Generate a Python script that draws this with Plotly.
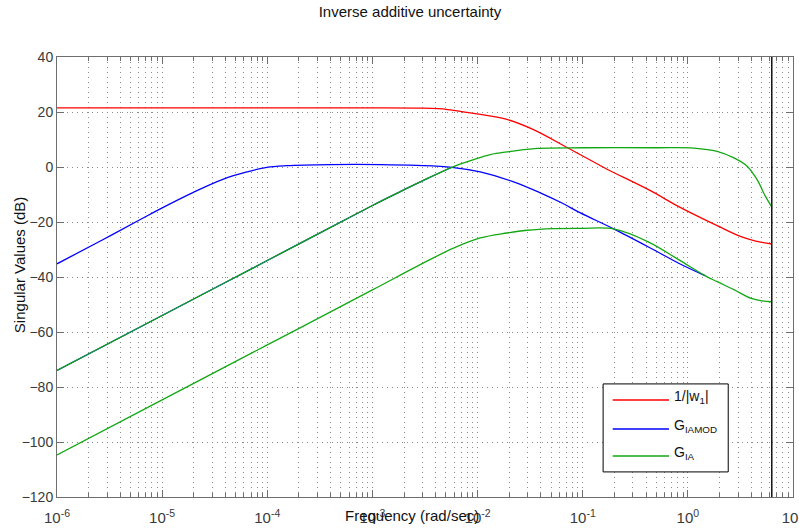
import plotly.graph_objects as go

# Singular values (dB) against frequency (rad/s)
w1_freq = [1e-6, 1e-5, 1e-4, 1e-3, 3.0e-3, 4.2e-3, 5.2e-3, 8.5e-3, 1.9e-2, 3.4e-2,
           7.1e-2, 0.141, 0.172, 0.44, 0.81, 1.90, 3.16, 4.91, 6.283]
w1_db = [21.5, 21.5, 21.5, 21.5, 21.4, 21.2, 20.9, 19.7, 17.3, 13.6,
         7.1, 0.9, -0.9, -8.6, -14.3, -21.3, -25.2, -27.3, -28.0]

iamod_freq = [1e-6, 2.56e-6, 6.2e-6, 9.5e-6, 1.98e-5, 3.83e-5, 6.4e-5, 9.9e-5, 1.53e-4,
              4e-4, 1.19e-3, 2.65e-3, 5.7e-3, 1.06e-2, 2.2e-2, 3.95e-2, 6.35e-2, 9.5e-2,
              0.197, 0.473, 0.818, 1.47]
iamod_db = [-35.2, -27.0, -19.1, -15.3, -9.2, -4.4, -1.8, -0.1, 0.5,
            0.9, 0.9, 0.6, -0.1, -1.8, -5.4, -9.4, -13.1, -16.7,
            -22.5, -30.1, -35.0, -39.6]

# second singular value of G_IAMOD (runs underneath the rising G_IA branch)
iamod2_freq = [1e-6, 1e-5, 1e-4, 1e-3, 1.9e-3, 3.16e-3, 5.7e-3]
iamod2_db = [-74.0, -54.0, -34.0, -14.0, -8.7, -4.6, -0.1]

ia_hi_freq = [1e-6, 1e-5, 1e-4, 1e-3, 1.9e-3, 3.16e-3, 5.7e-3, 9.2e-3, 1.32e-2, 2.0e-2,
              2.74e-2, 3.67e-2, 0.1, 0.5, 1.14, 1.90, 2.74, 3.66, 4.56, 5.47, 6.283]
ia_hi_db = [-74.0, -54.0, -34.0, -14.0, -8.7, -4.6, -0.1, 2.7, 4.5, 5.6,
            6.3, 6.8, 7.0, 7.0, 6.9, 5.7, 3.3, 0.3, -4.6, -10.7, -14.5]

ia_lo_freq = [1e-6, 1e-5, 1e-4, 1e-3, 2.85e-3, 5.9e-3, 1.06e-2, 1.9e-2, 2.95e-2, 5.2e-2,
              9.5e-2, 0.197, 0.42, 0.818, 1.47, 1.90, 2.74, 3.95, 4.91, 6.283]
ia_lo_db = [-104.7, -84.7, -64.7, -44.7, -35.5, -29.5, -25.8, -24.0, -23.0, -22.4,
            -22.3, -22.5, -27.2, -33.7, -39.6, -41.7, -44.6, -47.7, -48.6, -49.0]

nyquist_freq = 6.283
y_limits = [-120, 40]

legend_labels = ["1/|w<sub>1</sub>|", "G<sub>IAMOD</sub>", "G<sub>IA</sub>"]
x_tick_exponents = [-6, -5, -4, -3, -2, -1, 0, 1]
y_ticks = [-120, -100, -80, -60, -40, -20, 0, 20, 40]

RED, BLUE, GREEN = "#ff0000", "#0000ff", "#12a812"
AXIS = "#6e6e6e"
GRID = "#8c8c8c"
GRID_DASH = "1px,4px"
FONT = "Liberation Sans, Arial, Helvetica, sans-serif"

fig = go.Figure()
line_kw = dict(mode="lines", line_shape="spline", hoverinfo="skip", showlegend=False)
fig.add_trace(go.Scatter(x=w1_freq, y=w1_db, line=dict(color=RED, width=1.3), **line_kw))
fig.add_trace(go.Scatter(x=iamod2_freq, y=iamod2_db, line=dict(color=BLUE, width=1.3), **line_kw))
fig.add_trace(go.Scatter(x=iamod_freq, y=iamod_db, line=dict(color=BLUE, width=1.3), **line_kw))
fig.add_trace(go.Scatter(x=ia_hi_freq, y=ia_hi_db, line=dict(color=GREEN, width=1.3), **line_kw))
fig.add_trace(go.Scatter(x=ia_lo_freq, y=ia_lo_db, line=dict(color=GREEN, width=1.3), **line_kw))
# Nyquist frequency marker
fig.add_trace(go.Scatter(x=[nyquist_freq, nyquist_freq], y=y_limits, mode="lines",
                         line=dict(color="#111111", width=1.5), hoverinfo="skip", showlegend=False))

minor_vals = [m * 10.0 ** e for e in x_tick_exponents[:-1] for m in range(2, 10)]

fig.update_xaxes(
    type="log", range=[x_tick_exponents[0], x_tick_exponents[-1]],
    tickmode="array", tickvals=[10.0 ** e for e in x_tick_exponents],
    ticktext=[f"10<sup>{e}</sup>" for e in x_tick_exponents],
    ticks="inside", ticklen=7, tickcolor=AXIS, tickwidth=1,
    showline=True, linecolor=AXIS, linewidth=1, mirror="allticks",
    showgrid=True, gridcolor=GRID, gridwidth=1, griddash=GRID_DASH,
    minor=dict(tickmode="array", tickvals=minor_vals, ticks="inside", ticklen=4,
               tickcolor=AXIS, showgrid=True, gridcolor=GRID, griddash=GRID_DASH),
    zeroline=False, tickfont=dict(size=15, color="#3a3a3a"),
    ticklabelstandoff=7, ticklabeloverflow="allow", automargin=False,
)
fig.update_yaxes(
    range=y_limits, tickmode="array", tickvals=y_ticks,
    ticks="inside", ticklen=7, tickcolor=AXIS,
    showline=True, linecolor=AXIS, linewidth=1, mirror="allticks",
    showgrid=True, gridcolor=GRID, gridwidth=1, griddash=GRID_DASH,
    zeroline=False, tickfont=dict(size=14, color="#3a3a3a"), automargin=False,
)

# legend box drawn in paper coordinates
lx0, lx1, ly0, ly1 = 0.742, 0.912, 0.057, 0.257
shapes = [dict(type="rect", xref="paper", yref="paper", x0=lx0, x1=lx1, y0=ly0, y1=ly1,
               line=dict(color="#000000", width=1), fillcolor="white", layer="above")]
annotations = []
for label, color, yy in zip(legend_labels, [RED, BLUE, GREEN], [0.2205, 0.1545, 0.093]):
    shapes.append(dict(type="line", xref="paper", yref="paper", x0=0.755, x1=0.8315,
                       y0=yy, y1=yy, line=dict(color=color, width=1.5), layer="above"))
    annotations.append(dict(text=label, xref="paper", yref="paper", x=0.836, y=yy + 0.006,
                            xanchor="left", yanchor="middle", showarrow=False,
                            font=dict(size=14, color="#111111")))

annotations.append(dict(text="Frequency (rad/sec)", xref="paper", yref="paper",
                        x=0.482, y=-0.043, xanchor="center", yanchor="middle",
                        showarrow=False, font=dict(size=15, color="#111111")))
annotations.append(dict(text="Singular Values (dB)", xref="paper", yref="paper",
                        x=-0.0516, y=0.527, xanchor="center", yanchor="middle",
                        textangle=-90, showarrow=False, font=dict(size=15, color="#111111")))

fig.update_layout(
    width=799, height=529, autosize=False,
    margin=dict(l=57, r=6, t=57, b=32, autoexpand=False),
    paper_bgcolor="white", plot_bgcolor="white",
    font=dict(family=FONT, size=14, color="#222222"),
    title=dict(text="Inverse additive uncertainty", x=410 / 799, xanchor="center",
               y=1 - 12 / 529, yanchor="middle", font=dict(size=15, color="#111111")),
    shapes=shapes, annotations=annotations, showlegend=False,
)

fig.write_html("out.html")
